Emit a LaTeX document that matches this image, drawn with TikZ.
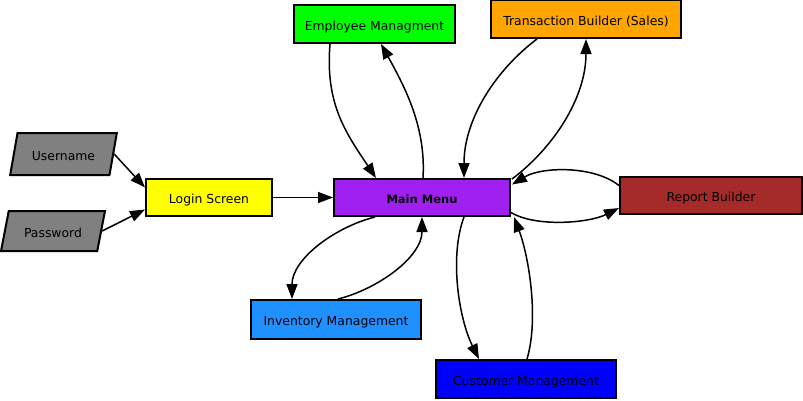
\documentclass[tikz,border=0pt]{standalone}
\usepackage{fontspec}
\setmainfont{DejaVu Sans}
\usetikzlibrary{arrows.meta,shapes.geometric,calc}
\definecolor{cgreen}{HTML}{00FF00}
\definecolor{corange}{HTML}{FFA500}
\definecolor{cyellow}{HTML}{FFFF00}
\definecolor{cpurple}{HTML}{A020F0}
\definecolor{cbrown}{HTML}{A52A2A}
\definecolor{cdodger}{HTML}{1E90FF}
\definecolor{cblue}{HTML}{0000FF}
\definecolor{cgray}{HTML}{808080}
\tikzset{
  box/.style={draw=black, line width=2pt, rectangle, inner sep=0pt, text height=12.5pt, text depth=0pt, font=\fontsize{12.4}{14}\selectfont},
  para/.style={draw=black, line width=2pt, fill=cgray, trapezium, trapezium left angle=68, trapezium right angle=112, trapezium stretches=true, inner sep=0pt, text height=12.5pt, text depth=0pt, font=\fontsize{12.4}{14}\selectfont},
  edge/.style={line width=1.5pt, -{Triangle[length=15pt,width=11pt]}},
}
\begin{document}
\begin{tikzpicture}[x=1pt,y=-1pt]
\useasboundingbox (0,0) rectangle (803,400);
\node[para, minimum width=107, minimum height=42] (uname) at (63.5,154) {Username};
\node[para, minimum width=104, minimum height=40] (pwd) at (53,231) {Password};
\node[box, fill=cyellow, minimum width=126, minimum height=37] (login) at (209,197.5) {Login Screen};
\node[box, fill=cpurple, minimum width=176, minimum height=37, font=\fontsize{11.5}{14}\selectfont\bfseries] (main) at (422,197.5) {Main Menu};
\node[box, fill=cgreen, minimum width=161, minimum height=38] (emp) at (374.5,24) {Employee Managment};
\node[box, fill=corange, minimum width=190, minimum height=38] (trans) at (586,19) {Transaction Builder (Sales)};
\node[box, fill=cbrown, minimum width=182, minimum height=37] (report) at (711,195.5) {Report Builder};
\node[box, fill=cdodger, minimum width=170, minimum height=39] (inv) at (336,319.5) {Inventory Management};
\node[box, fill=cblue, minimum width=180, minimum height=38] (cust) at (526,379) {Customer Management};

\draw[edge] (uname.east) -- ($(login.west)+(0,-10)$);
\draw[edge] (pwd.east) -- ($(login.west)+(0,12)$);
\draw[edge] (login.east) -- (main.west);

\draw[edge] ($(emp.south west)+(37,0)$) .. controls +(-5,60) and +(-30,-45) .. ($(main.north west)+(43,0)$);
\draw[edge] ($(main.north)+(1,0)$) .. controls +(3,-50) and +(25,45) .. ($(emp.south)+(6.5,0)$);

\draw[edge] ($(trans.south west)+(47,0)$) .. controls +(-40,30) and +(0,-60) .. ($(main.north west)+(131,0)$);
\draw[edge] ($(main.north east)+(1,1)$) .. controls +(40,-30) and +(0,60) .. (trans.south);

\draw[edge] ($(report.west)+(0,-10)$) .. controls +(-25,-20) and +(30,-18) .. ($(main.east)+(1,-13)$);
\draw[edge] ($(main.east)+(0,15)$) .. controls +(25,15) and +(-30,15) .. ($(report.west)+(0,12.5)$);

\draw[edge] ($(main.south west)+(42,0)$) .. controls +(-40,10) and +(0,-40) .. ($(inv.north west)+(42,0)$);
\draw[edge] ($(inv.north)+(2,0)$) .. controls +(40,-10) and +(0,40) .. (main.south);

\draw[edge] ($(main.south west)+(131,0)$) .. controls +(-15,40) and +(-20,-40) .. ($(cust.north west)+(44,0)$);
\draw[edge] ($(cust.north)+(1,0)$) .. controls +(12,-40) and +(15,40) .. ($(main.south east)+(3,0)$);
\end{tikzpicture}
\end{document}
